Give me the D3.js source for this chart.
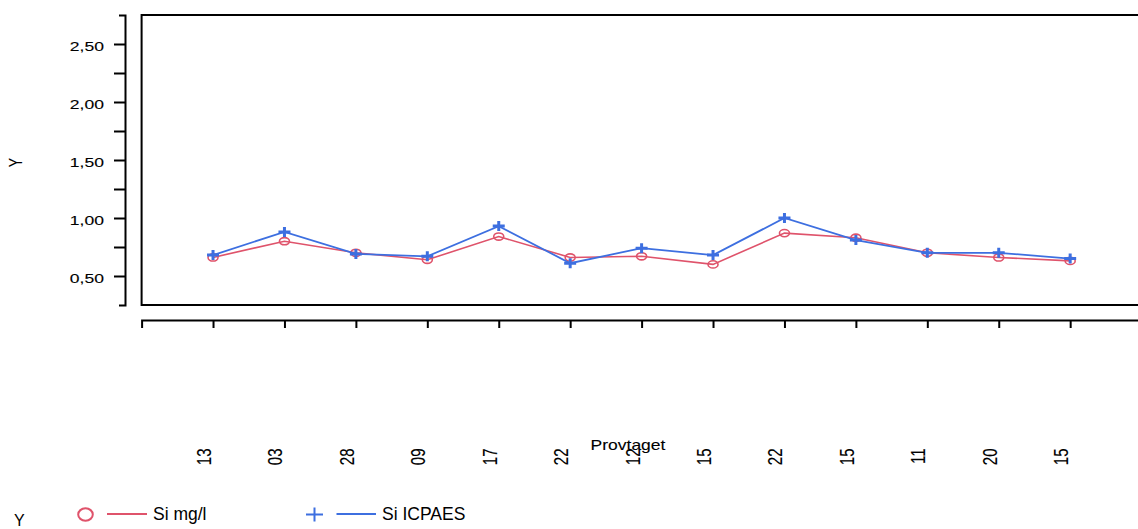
<!DOCTYPE html>
<html>
<head>
<meta charset="utf-8">
<script src="https://cdn.jsdelivr.net/npm/d3@7"></script>
<style>
    body { margin: 0; background: #fff; }
    #chartDiv { width: 1138px; height: 529px; }
    text { font-family: "Liberation Sans", Arial, sans-serif; fill: #000; }
    .axis-text { stroke: #000; stroke-width: 0.1px; }
</style>
</head>
<body>
<div id="chartDiv"></div>
<script>

// data
const sampleDates = ["13", "03", "28", "09", "17", "22", "12", "15", "22", "15", "11", "20", "15"];
const siMgL = [0.66, 0.80, 0.70, 0.64, 0.84, 0.66, 0.67, 0.60, 0.87, 0.83, 0.70, 0.66, 0.63];
const siIcpaes = [0.68, 0.88, 0.69, 0.67, 0.93, 0.61, 0.74, 0.68, 1.00, 0.81, 0.70, 0.70, 0.65];
const yTickValues = [0.5, 1.0, 1.5, 2.0, 2.5];
const yMinorValues = [0.75, 1.25, 1.75, 2.25];
const seriesNames = ["Si mg/l", "Si ICPAES"];
const seriesColors = ["#DF536B", "#3d6fe0"];


class LineVis {

    constructor(parentElement) {
        this.parentElement = parentElement;
        this.initVis()
    }

    initVis() {
        let vis = this;

        vis.width = 1138;
        vis.height = 529;
        vis.stretch = 1.35;   // the original picture is wider than tall

        vis.svg = d3.select("#" + vis.parentElement).append("svg")
            .attr("width", vis.width)
            .attr("height", vis.height)

        // scales
        vis.x = d3.scaleLinear().domain([-1, 13]).range([141.6, 1141.6])
        vis.y = d3.scaleLinear().domain([0.25, 2.75]).range([305, 15])

        vis.locale = d3.formatLocale({decimal: ",", thousands: ".", grouping: [3], currency: ["", ""]})
        vis.fmt = vis.locale.format(".2f")

        vis.drawAxes()
        vis.drawLines()
        vis.drawLegend()
    }

    drawAxes() {
        let vis = this;

        // y axis, sits left of the box
        let yAxis = d3.axisLeft(vis.y)
            .tickValues(yTickValues.concat(yMinorValues))
            .tickSize(11)
            .tickSizeOuter(6)
            .tickFormat("")

        let yg = vis.svg.append("g")
            .attr("class", "y-axis")
            .attr("transform", "translate(125,0)")
            .call(yAxis)
        yg.selectAll("path, line").attr("stroke", "#000").attr("stroke-width", 2)

        vis.svg.append("g").selectAll("text")
            .data(yTickValues)
            .enter().append("text")
            .attr("class", "axis-text")
            .attr("transform", d => `translate(104,${vis.y(d) + 6.7}) scale(${vis.stretch},1)`)
            .style("text-anchor", "end")
            .style("font-size", "13px")
            .text(d => vis.fmt(d))

        vis.svg.append("text")
            .attr("class", "axis-text")
            .attr("transform", `translate(22,162.5) scale(${vis.stretch},1) rotate(-90)`)
            .style("text-anchor", "middle")
            .style("font-size", "14px")
            .text("Y")

        // plot box (no right side)
        vis.svg.append("path")
            .attr("d", `M1140,${vis.y(2.75)}H141.6V${vis.y(0.25)}H1140`)
            .attr("fill", "none")
            .attr("stroke", "#000")
            .attr("stroke-width", 2)

        // x axis
        let xAxis = d3.axisBottom(vis.x)
            .tickValues(d3.range(sampleDates.length))
            .tickSize(8)
            .tickSizeOuter(8)
            .tickFormat("")

        let xg = vis.svg.append("g")
            .attr("class", "x-axis")
            .attr("transform", "translate(0,320)")
            .call(xAxis)
        xg.selectAll("path, line").attr("stroke", "#000").attr("stroke-width", 2)

        vis.svg.append("text")
            .attr("class", "axis-text")
            .attr("transform", "translate(628,449.5) scale(1.25,1)")
            .style("text-anchor", "middle")
            .style("font-size", "14px")
            .text("Provtaget")

        vis.svg.append("g").selectAll("text")
            .data(sampleDates)
            .enter().append("text")
            .attr("class", "axis-text")
            .attr("transform", (d, i) => `translate(${vis.x(i) - 2},448.5) scale(${vis.stretch},1) rotate(-90)`)
            .style("text-anchor", "end")
            .style("font-size", "15px")
            .text(d => d)
    }

    drawLines() {
        let vis = this;

        let line = d3.line()
            .x((d, i) => vis.x(i))
            .y(d => vis.y(d))

        // red series with open circles
        vis.svg.append("path")
            .datum(siMgL)
            .attr("d", line)
            .attr("fill", "none")
            .attr("stroke", seriesColors[0])
            .attr("stroke-width", 1.6)

        vis.svg.append("g").selectAll("ellipse")
            .data(siMgL)
            .enter().append("ellipse")
            .attr("cx", (d, i) => vis.x(i))
            .attr("cy", d => vis.y(d))
            .attr("rx", 5)
            .attr("ry", 3.6)
            .attr("fill", "none")
            .attr("stroke", seriesColors[0])
            .attr("stroke-width", 1.6)

        // blue series with plus signs
        vis.svg.append("path")
            .datum(siIcpaes)
            .attr("d", line)
            .attr("fill", "none")
            .attr("stroke", seriesColors[1])
            .attr("stroke-width", 1.8)

        vis.svg.append("g").selectAll("path")
            .data(siIcpaes)
            .enter().append("path")
            .attr("d", (d, i) => {
                let cx = vis.x(i), cy = vis.y(d)
                return `M${cx - 6},${cy}H${cx + 6}M${cx},${cy - 5}V${cy + 5}`
            })
            .attr("stroke", seriesColors[1])
            .attr("stroke-width", 3)
    }

    drawLegend() {
        let vis = this;

        let legend = vis.svg.append("g").attr("class", "legend")

        legend.append("text")
            .attr("x", 14)
            .attr("y", 526)
            .style("font-size", "16px")
            .text("Y")

        // Si mg/l
        legend.append("ellipse")
            .attr("cx", 85.5).attr("cy", 514.5)
            .attr("rx", 7.3).attr("ry", 6.2)
            .attr("fill", "none")
            .attr("stroke", seriesColors[0])
            .attr("stroke-width", 2)
        legend.append("line")
            .attr("x1", 107).attr("x2", 147)
            .attr("y1", 514).attr("y2", 514)
            .attr("stroke", seriesColors[0])
            .attr("stroke-width", 2)
        legend.append("text")
            .attr("x", 153).attr("y", 520)
            .style("font-size", "17.5px")
            .text(seriesNames[0])

        // Si ICPAES
        legend.append("path")
            .attr("d", "M306,514.5H323M314.5,507.5V521.5")
            .attr("stroke", seriesColors[1])
            .attr("stroke-width", 2)
        legend.append("line")
            .attr("x1", 336.5).attr("x2", 376)
            .attr("y1", 514).attr("y2", 514)
            .attr("stroke", seriesColors[1])
            .attr("stroke-width", 2)
        legend.append("text")
            .attr("x", 382).attr("y", 520)
            .style("font-size", "17.5px")
            .text(seriesNames[1])
    }
}

new LineVis("chartDiv")

</script>
</body>
</html>
